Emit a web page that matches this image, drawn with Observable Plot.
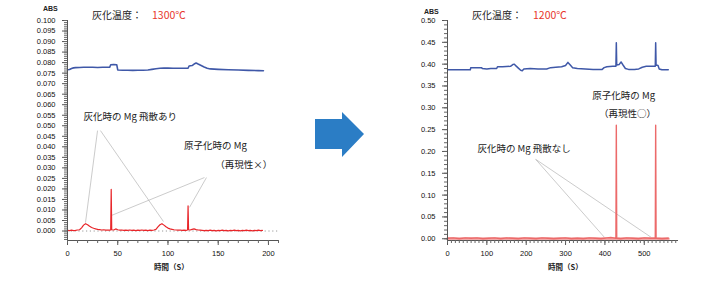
<!DOCTYPE html>
<html><head><meta charset="utf-8">
<script src="https://cdn.jsdelivr.net/npm/d3@7"></script>
<script src="https://cdn.jsdelivr.net/npm/@observablehq/plot@0.6"></script>
<style>
body{margin:0;background:#fff;width:720px;height:282px;overflow:hidden;position:relative;font-family:"Noto Sans CJK JP","Noto Sans",sans-serif}
.abs{position:absolute;white-space:nowrap;line-height:1}
</style></head><body>
<div id="left" class="abs" style="left:0;top:0"></div>
<div id="right" class="abs" style="left:380px;top:0"></div>
<svg class="abs" style="left:0;top:0" width="720" height="282"><polygon points="315,119 342,119 342,112 364,134 342,157 342,149 315,149" fill="#2b7dc5"/></svg>
<div class="abs" style="left:43px;top:5px;font:bold 7px 'Liberation Sans',Arial,sans-serif;color:#222">ABS</div>
<div class="abs" style="left:424px;top:8px;font:bold 7px 'Liberation Sans',Arial,sans-serif;color:#222">ABS</div>
<div class="abs" style="left:92px;top:10px;font-size:10px;color:#222">灰化温度：</div>
<div class="abs" style="left:152px;top:10px;font-size:10.5px;color:#e8372c">1300℃</div>
<div class="abs" style="left:472px;top:10px;font-size:10px;color:#222">灰化温度：</div>
<div class="abs" style="left:533px;top:10px;font-size:10.5px;color:#e8372c">1200℃</div>
<div class="abs" style="left:154px;top:263px;font-size:7.5px;font-weight:bold;color:#222">時間（S）</div>
<div class="abs" style="left:548px;top:263px;font-size:7.5px;font-weight:bold;color:#222">時間（S）</div>
<script>
// ---- Left chart (1300℃) ----
const leftRedT = [0,2,4,6,8,10,12,14,16,18,20,22,24,26,28,30,32,34,36,38,40,42,43,43.5,44,46,48,50,52,54,56,58,60,62,64,66,68,70,72,74,76,78,80,82,84,86,88,90,92,94,96,98,100,102,104,106,108,110,112,114,116,118,119.5,120,120.5,122,124,126,128,130,132,134,136,138,140,142,144,146,148,150,152,154,156,158,160,162,164,166,168,170,172,174,176,178,180,182,184,186,188,190,192,194];
const leftRedV = [0.3,0.2,0.4,0.2,0.3,0.5,0.6,1.5,2.8,3.5,3.0,2.3,1.7,1.3,1.0,0.8,0.7,0.5,0.6,0.4,0.5,0.4,0.5,19.8,0.6,0.5,1.0,0.6,0.4,0.5,0.3,0.4,0.3,0.5,0.3,0.4,0.2,0.4,0.3,0.5,0.3,0.4,0.2,0.4,0.3,0.5,0.8,2.0,3.0,3.5,2.8,2.0,1.4,1.0,0.8,0.6,0.5,0.4,0.5,0.3,0.4,0.3,0.5,11.9,0.6,0.5,0.8,1.0,0.7,0.5,0.4,0.3,0.2,0.3,0.2,0.4,0.2,0.3,0.1,0.3,0.2,0.4,0.2,0.3,0.1,0.3,0.2,0.4,0.2,0.3,0.1,0.3,0.2,0.4,0.2,0.3,0.1,0.3,0.2,0.4,0.2,0.3]; // x0.001
const leftBlueT = [0,2,4,6,8,12,16,20,25,30,35,40,42,43,46,49,50,55,60,65,70,75,80,84,88,92,96,100,105,110,114,118,120,121,124,126,128,130,133,136,139,142,146,150,160,170,180,190,195];
const leftBlueV = [76.6,76.7,77.2,77.5,77.6,77.7,77.8,77.8,77.8,77.7,77.8,77.8,77.8,79.0,79.1,79.0,76.5,76.4,76.4,76.3,76.4,76.4,76.5,76.8,77.1,77.3,77.4,77.4,77.3,77.3,77.3,77.3,77.3,78.4,78.6,79.3,79.8,79.3,78.6,77.9,77.3,77.0,76.9,76.8,76.6,76.5,76.3,76.2,76.1]; // x0.001
const leftYTicks = [0,0.005,0.01,0.015,0.02,0.025,0.03,0.035,0.04,0.045,0.05,0.055,0.06,0.065,0.07,0.075,0.08,0.085,0.09,0.095,0.1];
const leftXTicks = [0,50,100,150,200];
const leftNotes = ["灰化時の Mg 飛散あり","原子化時の Mg","（再現性×）"];
const leftNoteT = [16,116,147];
const leftNoteV = [0.0540,0.0402,0.0312];
const leftLinkT1 = [29.9,32.8,136.3,138.3], leftLinkV1 = [0.0477,0.0477,0.0254,0.0254];
const leftLinkT2 = [17.9,95.5,43.8,121.4], leftLinkV2 = [0.0040,0.0045,0.0074,0.0112];

// ---- Right chart (1200℃) ----
const rightRedT = [0,15,30,45,60,75,90,105,120,135,150,165,180,195,210,225,240,255,270,285,300,315,330,345,360,375,390,405,415,428,429,430,440,455,470,485,500,515,528,529,530,545,561];
const rightRedV = [0.001,0.002,0.000,0.002,0.001,0.002,0.000,0.001,0.002,0.000,0.002,0.001,0.000,0.002,0.001,0.000,0.002,0.001,0.000,0.001,0.002,0.000,0.001,0.000,0.002,0.001,0.000,0.002,0.003,0.001,0.260,0.001,0.000,0.002,0.001,0.000,0.002,0.001,0.001,0.260,0.001,0.000,0.001];
const rightBlueT = [0,50,58,59,70,87,88,100,110,125,127,140,160,166,170,174,180,186,190,194,210,230,252,262,275,290,300,306,312,318,330,350,370,393,398,405,420,428,429,430,436,441,446,452,460,475,486,495,505,520,528,529,530,535,538,545,561];
const rightBlueV = [0.387,0.387,0.387,0.392,0.392,0.392,0.390,0.389,0.390,0.390,0.394,0.394,0.395,0.399,0.400,0.396,0.391,0.386,0.385,0.389,0.390,0.389,0.389,0.392,0.393,0.394,0.397,0.404,0.398,0.392,0.390,0.389,0.388,0.388,0.392,0.394,0.395,0.395,0.449,0.398,0.399,0.405,0.398,0.390,0.388,0.388,0.389,0.393,0.395,0.395,0.395,0.449,0.398,0.397,0.389,0.387,0.387];
const rightYTicks = [0,0.05,0.1,0.15,0.2,0.25,0.3,0.35,0.4,0.45,0.5];
const rightXTicks = [0,100,200,300,400,500];
const rightNotes = ["灰化時の Mg 飛散なし","原子化時の Mg","（再現性○）"];
const rightNoteT = [76,368,385];
const rightNoteV = [0.205,0.327,0.287];
const rightLinkT1 = [224,224], rightLinkV1 = [0.182,0.182];
const rightLinkT2 = [399,518], rightLinkV2 = [0.003,0.003];

const tickFont = "'Liberation Sans',Arial,sans-serif";
const jpFont = "'Noto Sans CJK JP','Noto Sans',sans-serif";
const zip = (T,V,k=1) => T.map((t,i)=>({t, v:V[i]*k}));
const links = (a,b,c,d) => a.map((t,i)=>({t1:t, v1:b[i], t2:c[i], v2:d[i]}));
const notes = (txt,T,V) => txt.map((s,i)=>({s, t:T[i], v:V[i]}));
const range = (a,b,s) => d3.range(a, b+s/2, s).map(x=>+x.toFixed(4));

function chart({w, ml, mr, xDom, yDom, xTicks, xMinor, yTicks, yMinor, yFmt, series, linkData, noteData, zeroDots}) {
  return Plot.plot({
    width: w, height: 282, marginLeft: ml, marginRight: mr, marginTop: 20, marginBottom: 42,
    x: {domain: xDom, label: null}, y: {domain: yDom, label: null},
    style: {fontFamily: tickFont, fontSize: "7.5px", color: "#111", background: "transparent", overflow: "visible"},
    marks: [
      zeroDots ? Plot.ruleY([0], {stroke: "#9a9a9a", strokeDasharray: "1.2,2.6", strokeWidth: 1}) : null,
      Plot.link(linkData, {x1: "t1", y1: "v1", x2: "t2", y2: "v2", stroke: "#a8a8a8", strokeWidth: 0.6}),
      ...series,
      Plot.ruleX([0], {stroke: "#555", strokeWidth: 1}),
      Plot.ruleY([yDom[0]], {stroke: "#555", strokeWidth: 1}),
      Plot.axisY({ticks: yTicks, tickFormat: yFmt, tickSize: 5, tickPadding: 7, stroke: "#555", label: null}),
      Plot.axisY({ticks: yMinor, tickFormat: () => "", tickSize: 3, stroke: "#666", label: null}),
      Plot.axisX({ticks: xTicks, tickSize: 5, tickPadding: 5, stroke: "#555", label: null}),
      Plot.axisX({ticks: xMinor, tickFormat: () => "", tickSize: 3, stroke: "#666", label: null}),
      Plot.text(noteData, {x: "t", y: "v", text: "s", textAnchor: "start", fontFamily: jpFont, fontSize: 9.5, fill: "#222"})
    ]
  });
}

const leftNoteData = notes(leftNotes, leftNoteT, leftNoteV);
leftNoteData[2].anchor = "start";
document.getElementById("left").append(chart({
  w: 290, ml: 67, mr: 12, xDom: [0, 210], yDom: [-0.0045, 0.1],
  xTicks: leftXTicks, xMinor: range(0, 210, 10), yTicks: leftYTicks, yMinor: range(-0.004, 0.1, 0.001),
  yFmt: d3.format(".3f"), zeroDots: true,
  series: [
    Plot.line(zip(leftBlueT, leftBlueV, 0.001), {x: "t", y: "v", stroke: "#3f58a8", strokeWidth: 1.6}),
    Plot.line(zip(leftRedT, leftRedV, 0.001), {x: "t", y: "v", stroke: "#e8262a", strokeWidth: 1.2})
  ],
  linkData: links(leftLinkT1, leftLinkV1, leftLinkT2, leftLinkV2),
  noteData: leftNoteData
}));

document.getElementById("right").append(chart({
  w: 320, ml: 67, mr: 22, xDom: [0, 587], yDom: [-0.004, 0.5],
  xTicks: rightXTicks, xMinor: range(0, 580, 10), yTicks: rightYTicks, yMinor: range(0, 0.5, 0.01),
  yFmt: d3.format(".2f"), zeroDots: false,
  series: [
    Plot.line(zip(rightBlueT, rightBlueV), {x: "t", y: "v", stroke: "#3f58a8", strokeWidth: 1.5}),
    Plot.line(zip([0, 561], [0, 0]), {x: "t", y: "v", stroke: "#f3a9a9", strokeWidth: 3}),
    Plot.line(zip(rightRedT, rightRedV), {x: "t", y: "v", stroke: "#ec6a6a", strokeWidth: 1.4})
  ],
  linkData: links(rightLinkT1, rightLinkV1, rightLinkT2, rightLinkV2),
  noteData: notes(rightNotes, rightNoteT, rightNoteV)
}));
</script>
</body></html>
